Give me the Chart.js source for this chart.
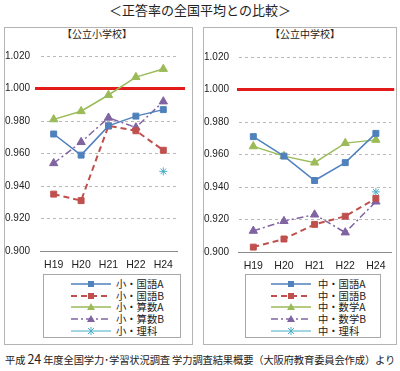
<!DOCTYPE html>
<html lang="ja">
<head>
<meta charset="utf-8">
<script src="https://cdn.jsdelivr.net/npm/chart.js@4/dist/chart.umd.min.js"></script>
<style>
  body { margin: 0; background: #fff; font-family: "Noto Sans CJK JP", "Noto Sans", sans-serif; color: #222; }
  #page { position: relative; width: 400px; height: 371px; overflow: hidden; }
  .panel { position: absolute; box-sizing: border-box; border: 1px solid #b4b4b4; }
  .title { position: absolute; top: 2px; left: 0; width: 400px; text-align: center; font-size: 13px; line-height: 16px; }
  .ptitle { position: absolute; font-size: 10px; line-height: 12px; top: 28px; }
  .legend { position: absolute; box-sizing: border-box; border: 1px solid #a8a8a8; top: 274px; height: 64px; }
  .row { position: absolute; height: 12px; font-size: 10.3px; line-height: 12px; white-space: nowrap; }
  .row svg { position: absolute; left: 0; top: 1px; }
  .row span { position: absolute; top: 0; }
  .foot { position: absolute; left: 5px; top: 351px; font-size: 10.3px; letter-spacing: -0.15px; line-height: 16px; white-space: nowrap; }
  .foot b { font-weight: normal; font-size: 12.5px; }
  canvas { position: absolute; }
</style>
</head>
<body>
<div id="page">
  <div class="title">＜正答率の全国平均との比較＞</div>
  <div class="panel" style="left:4px;top:27px;width:189px;height:318px"></div>
  <div class="panel" style="left:203px;top:27px;width:194px;height:318px"></div>
  <div class="ptitle" style="left:62px">【公立小学校】</div>
  <div class="ptitle" style="left:270px">【公立中学校】</div>
  <canvas id="es" width="188" height="245" style="left:4px;top:27px"></canvas>
  <canvas id="jh" width="193" height="245" style="left:204px;top:28px"></canvas>
  <div class="legend" id="esLegend" style="left:43px;width:138px"></div>
  <div class="legend" id="jhLegend" style="left:245px;width:136px"></div>
  <div class="foot">平成 <b>24</b> 年度全国学力･学習状況調査 学力調査結果概要（大阪府教育委員会作成）より</div>
</div>
<script>
const categories = ["H19", "H20", "H21", "H22", "H24"];
const yTicks = [0.9, 0.92, 0.94, 0.96, 0.98, 1.0, 1.02];
const baseline = 1.0;

// 公立小学校
const esLabels = ["小・国語A", "小・国語B", "小・算数A", "小・算数B", "小・理科"];
const esJapaneseA = [0.972, 0.959, 0.977, 0.983, 0.987];
const esJapaneseB = [0.935, 0.931, 0.977, 0.974, 0.962];
const esMathA = [0.981, 0.986, 0.996, 1.007, 1.012];
const esMathB = [0.954, 0.967, 0.982, 0.976, 0.992];
const esScience = [null, null, null, null, 0.949];

// 公立中学校
const jhLabels = ["中・国語A", "中・国語B", "中・数学A", "中・数学B", "中・理科"];
const jhJapaneseA = [0.971, 0.959, 0.944, 0.955, 0.973];
const jhJapaneseB = [0.903, 0.908, 0.917, 0.922, 0.933];
const jhMathA = [0.965, 0.959, 0.955, 0.967, 0.969];
const jhMathB = [0.913, 0.919, 0.923, 0.912, 0.931];
const jhScience = [null, null, null, null, 0.937];

const styles = [
  { color: "#4f81bd", dash: [], width: 1.5, point: "rect", radius: 4.2 },
  { color: "#c0504d", dash: [6, 4], width: 2, point: "rect", radius: 4.2 },
  { color: "#9bbb59", dash: [], width: 1.5, point: "triangle", radius: 4.8 },
  { color: "#8064a2", dash: [7, 3, 2, 3], width: 1.5, point: "triangle", radius: 4.8 },
  { color: "#4bacc6", dash: [], width: 1, point: "star", radius: 4 },
];

function makeDatasets(labels, series) {
  return series.map((values, i) => ({
    label: labels[i],
    data: values,
    borderColor: styles[i].color,
    backgroundColor: styles[i].color,
    borderWidth: styles[i].width,
    borderDash: styles[i].dash,
    pointStyle: styles[i].point,
    pointRadius: styles[i].radius,
    pointBorderWidth: 1,
    pointBorderColor: styles[i].color,
    pointBackgroundColor: styles[i].color,
    tension: 0,
    spanGaps: false,
  }));
}

// thick red line for the national average, a bit wider than the plot
const baseLinePlugin = {
  id: "baseLine",
  beforeDatasetsDraw(chart, args, opts) {
    const y = chart.scales.y.getPixelForValue(opts.value);
    const area = chart.chartArea;
    const ctx = chart.ctx;
    ctx.save();
    ctx.strokeStyle = "#e31b1b";
    ctx.lineWidth = 3;
    ctx.beginPath();
    ctx.moveTo(area.left - opts.left, y);
    ctx.lineTo(area.right + opts.right, y);
    ctx.stroke();
    ctx.restore();
  },
};

function makeChart(id, labels, series, geo) {
  return new Chart(document.getElementById(id), {
    type: "line",
    data: { labels: categories, datasets: makeDatasets(labels, series) },
    plugins: [baseLinePlugin],
    options: {
      responsive: false,
      animation: false,
      devicePixelRatio: 1,
      layout: { padding: { top: 29, right: geo.padRight, bottom: 0, left: 0 } },
      plugins: {
        legend: { display: false },
        tooltip: { enabled: false },
        baseLine: { value: baseline, left: geo.lineLeft, right: geo.lineRight },
      },
      scales: {
        x: {
          offset: true,
          grid: { display: false, drawTicks: false },
          border: { display: true, color: "#8c8c8c", width: 1 },
          ticks: { color: "#222", font: { family: "Liberation Sans", size: 10.5 }, padding: 8, maxRotation: 0 },
          afterFit(s) { s.height = 21; },
        },
        y: {
          min: yTicks[0],
          max: yTicks[yTicks.length - 1],
          afterBuildTicks(s) { s.ticks = yTicks.map((v) => ({ value: v })); },
          grid: {
            color: (c) => (c.index === 0 ? "rgba(0,0,0,0)" : "#b8b8b8"),
            lineWidth: 1,
            drawTicks: false,
          },
          border: { display: true, color: "rgba(0,0,0,0)", width: 1, dash: [3, 3] },
          ticks: {
            color: "#222",
            font: { family: "Liberation Sans", size: 10 },
            padding: geo.labelPad,
            callback: (v) => Number(v).toFixed(3),
          },
          afterFit(s) { s.width = geo.axisWidth; },
        },
      },
    },
  });
}

makeChart("es", esLabels, [esJapaneseA, esJapaneseB, esMathA, esMathB, esScience],
  { axisWidth: 36, labelPad: 10, padRight: 15, lineLeft: 5, lineRight: 8 });
makeChart("jh", jhLabels, [jhJapaneseA, jhJapaneseB, jhMathA, jhMathB, jhScience],
  { axisWidth: 34, labelPad: 9, padRight: 5, lineLeft: 1, lineRight: 3 });

function marker(st) {
  const c = st.color;
  if (st.point === "rect") return `<rect x="17" y="2" width="6" height="6" fill="${c}"/>`;
  if (st.point === "triangle") return `<polygon points="20,1 24,8 16,8" fill="${c}"/>`;
  return `<path d="M17,2 L23,8 M23,2 L17,8 M20,1 L20,9" stroke="${c}" stroke-width="1"/>`;
}

function buildLegend(elId, labels, sampleLeft, textLeft) {
  const el = document.getElementById(elId);
  labels.forEach((label, i) => {
    const st = styles[i];
    const row = document.createElement("div");
    row.className = "row";
    row.style.left = "0px";
    row.style.width = "100%";
    row.style.top = (3 + i * 11.7) + "px";
    row.innerHTML =
      `<svg width="40" height="10" style="left:${sampleLeft}px">` +
      `<line x1="0" y1="5" x2="40" y2="5" stroke="${st.color}" stroke-width="${st.width}" stroke-dasharray="${st.dash.join(" ")}"/>` +
      marker(st) + `</svg><span style="left:${textLeft}px">${label}</span>`;
    el.appendChild(row);
  });
}

buildLegend("esLegend", esLabels, 27, 72);
buildLegend("jhLegend", jhLabels, 25, 72);
</script>
</body>
</html>
